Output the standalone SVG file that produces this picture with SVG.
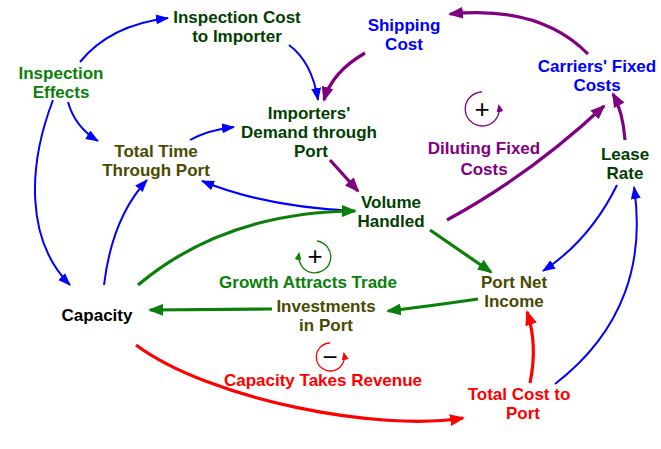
<svg xmlns="http://www.w3.org/2000/svg" width="661" height="449" viewBox="0 0 661 449">
<defs>
<style>
text{font-family:"Liberation Sans",Arial,sans-serif;font-weight:bold;font-size:17px;text-anchor:middle}
.dg{fill:#004000}.g{fill:#0a800a}.ol{fill:#4a4a00}.bl{fill:#0000ff}.pu{fill:#800080}.rd{fill:#ff0000}.bk{fill:#000}
.c{fill:none}
.cb{stroke:#0000ff;stroke-width:2}
.cp{stroke:#800080;stroke-width:3.2}
.cg{stroke:#0a800a;stroke-width:3.2}
.cr{stroke:#ff0000;stroke-width:3.2}
.sym{font-weight:normal;font-size:26px;fill:#000}
</style>
<marker id="ab" markerUnits="userSpaceOnUse" markerWidth="14" markerHeight="10" refX="12" refY="5" orient="auto"><path d="M0,0 L13,5 L0,10 z" fill="#0000ff"/></marker>
<marker id="ap" markerUnits="userSpaceOnUse" markerWidth="16" markerHeight="12" refX="13" refY="6" orient="auto"><path d="M0,0 L15,6 L0,12 z" fill="#800080"/></marker>
<marker id="ag" markerUnits="userSpaceOnUse" markerWidth="16" markerHeight="12" refX="13" refY="6" orient="auto"><path d="M0,0 L15,6 L0,12 z" fill="#0a800a"/></marker>
<marker id="ar" markerUnits="userSpaceOnUse" markerWidth="16" markerHeight="12" refX="13" refY="6" orient="auto"><path d="M0,0 L15,6 L0,12 z" fill="#ff0000"/></marker>
<marker id="sp" markerUnits="userSpaceOnUse" markerWidth="8" markerHeight="8" refX="6" refY="4" orient="auto"><path d="M0,0.5 L8,4 L0,7.5 z" fill="#800080"/></marker>
<marker id="sg" markerUnits="userSpaceOnUse" markerWidth="8" markerHeight="8" refX="6" refY="4" orient="auto"><path d="M0,0.5 L8,4 L0,7.5 z" fill="#0a800a"/></marker>
<marker id="sr" markerUnits="userSpaceOnUse" markerWidth="8" markerHeight="8" refX="6" refY="4" orient="auto"><path d="M0,0.5 L8,4 L0,7.5 z" fill="#ff0000"/></marker>
</defs>
<rect width="661" height="449" fill="#fff"/>
<g id="connectors" class="c">
<path class="c cb" d="M80,62 Q110,25 168,18" marker-end="url(#ab)"/>
<path class="c cb" d="M289,45 Q312,62 318,100" marker-end="url(#ab)"/>
<path class="c cb" d="M68,102 Q75,127 98,141" marker-end="url(#ab)"/>
<path class="c cb" d="M53,100 C28,165 25,240 70,285" marker-end="url(#ab)"/>
<path class="c cb" d="M104,285 Q112,218 147,180" marker-end="url(#ab)"/>
<path class="c cb" d="M190,140 Q208,130 234,127" marker-end="url(#ab)"/>
<path class="c cb" d="M355,211 Q265,207 202,181" marker-end="url(#ab)"/>
<path class="c cb" d="M617,185 Q590,240 543,271" marker-end="url(#ab)"/>
<path class="c cb" d="M555,384 C625,330 645,260 634,187" marker-end="url(#ab)"/>
<path class="c cp" d="M588,54 Q540,5 450,14" marker-end="url(#ap)"/>
<path class="c cp" d="M365,53 Q332,72 324,100" marker-end="url(#ap)"/>
<path class="c cp" d="M330,160 L358,191" marker-end="url(#ap)"/>
<path class="c cp" d="M447,220 Q530,175 604,106" marker-end="url(#ap)"/>
<path class="c cp" d="M625,140 Q623,112 613,94" marker-end="url(#ap)"/>
<path class="c cg" d="M138,285 Q225,212 355,211" marker-end="url(#ag)"/>
<path class="c cg" d="M430,230 L491,272" marker-end="url(#ag)"/>
<path class="c cg" d="M478,299 Q430,306 388,311" marker-end="url(#ag)"/>
<path class="c cg" d="M272,309 L150,310" marker-end="url(#ag)"/>
<path class="c cr" d="M136,345 C210,400 380,432 463,418" marker-end="url(#ar)"/>
<path class="c cr" d="M530,383 Q538,345 527,312" marker-end="url(#ar)"/>
</g>
<g id="loop-diluting">
<path d="M482,92 A17,17 0 1 0 499,106" fill="none" stroke="#800080" stroke-width="1.3" marker-end="url(#sp)"/>
<text class="sym" x="482" y="118">+</text>
<text class="pu"><tspan x="484" y="154">Diluting Fixed</tspan><tspan x="484" y="175">Costs</tspan></text>
</g>
<g id="loop-growth">
<path d="M317,241 A16,16 0 1 1 299,254" fill="none" stroke="#0a800a" stroke-width="1.3" marker-end="url(#sg)"/>
<text class="sym" x="315" y="265">+</text>
<text class="g" x="308" y="288">Growth Attracts Trade</text>
</g>
<g id="loop-capacity">
<path d="M330,343 A14,14 0 1 0 344,354" fill="none" stroke="#ff0000" stroke-width="1.3" marker-end="url(#sr)"/>
<text class="sym" x="330" y="366">−</text>
<text class="rd" x="323" y="386">Capacity Takes Revenue</text>
</g>
<g id="inspection-cost"><text class="dg"><tspan x="237" y="23">Inspection Cost</tspan><tspan x="237" y="42">to Importer</tspan></text></g>
<g id="inspection-effects"><text class="g"><tspan x="61" y="79">Inspection</tspan><tspan x="61" y="98">Effects</tspan></text></g>
<g id="total-time"><text class="ol"><tspan x="156" y="157">Total Time</tspan><tspan x="156" y="176">Through Port</tspan></text></g>
<g id="importers-demand"><text class="dg"><tspan x="309" y="119">Importers'</tspan><tspan x="309" y="138">Demand through</tspan><tspan x="311" y="157">Port</tspan></text></g>
<g id="volume-handled"><text class="dg"><tspan x="391" y="208">Volume</tspan><tspan x="391" y="227">Handled</tspan></text></g>
<g id="shipping-cost"><text class="bl"><tspan x="404" y="31">Shipping</tspan><tspan x="404" y="50">Cost</tspan></text></g>
<g id="carriers-fixed-costs"><text class="bl"><tspan x="597" y="72">Carriers' Fixed</tspan><tspan x="597" y="91">Costs</tspan></text></g>
<g id="lease-rate"><text class="dg"><tspan x="625" y="160">Lease</tspan><tspan x="625" y="179">Rate</tspan></text></g>
<g id="capacity"><text class="bk" x="97" y="321">Capacity</text></g>
<g id="investments"><text class="ol"><tspan x="326" y="312">Investments</tspan><tspan x="326" y="331">in Port</tspan></text></g>
<g id="port-net-income"><text class="ol"><tspan x="514" y="288">Port Net</tspan><tspan x="514" y="307">Income</tspan></text></g>
<g id="total-cost"><text class="rd"><tspan x="519" y="400">Total Cost to</tspan><tspan x="523" y="419">Port</tspan></text></g>
</svg>
